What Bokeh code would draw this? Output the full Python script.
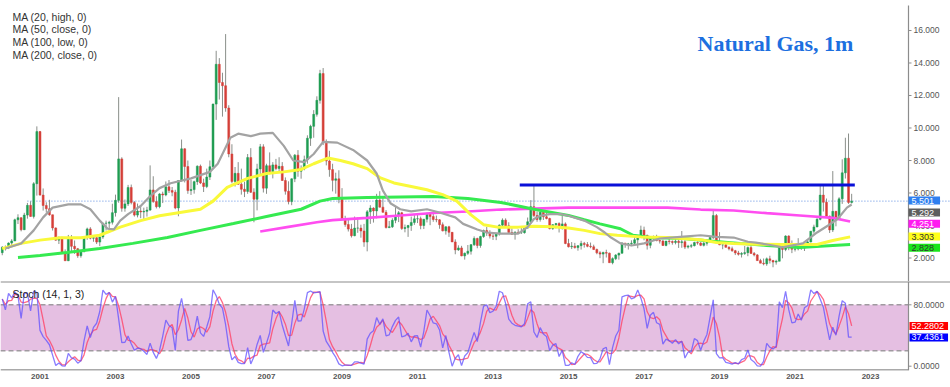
import numpy as np
import pandas as pd
from bokeh.plotting import figure
from bokeh.layouts import column
from bokeh.models import (Range1d, FixedTicker, Label, Span, BoxAnnotation, ColumnDataSource)
from bokeh.core.properties import value
from bokeh.embed import file_html
from bokeh.resources import INLINE

# ---------------- data (monthly, Jan 2000 .. Jul 2022) ----------------
first_open = 2.33
close_ = [
    2.66, 2.61, 2.92, 3.05, 4.35, 4.48, 3.74, 4.64, 5.24, 4.56, 6.57, 9.78,      # 2000
    5.87, 5.23, 5.03, 4.66, 3.85, 3.10, 3.17, 2.30, 1.83, 3.20, 2.72, 2.57,      # 2001
    2.14, 2.39, 3.28, 3.79, 3.22, 3.25, 2.98, 3.30, 4.14, 4.14, 4.20, 4.79,      # 2002
    5.55, 8.10, 5.06, 5.33, 6.34, 5.41, 4.64, 4.89, 4.83, 4.87, 4.95, 6.19,      # 2003
    5.47, 5.16, 5.94, 5.88, 6.38, 6.15, 6.05, 5.08, 6.77, 8.72, 7.63, 6.15,      # 2004
    6.21, 6.70, 7.65, 6.62, 6.40, 6.98, 7.62, 11.47, 13.92, 12.80, 12.60, 11.23, # 2005
    8.40, 6.71, 7.21, 6.54, 6.23, 6.10, 8.18, 6.05, 5.62, 7.48, 8.84, 6.30,      # 2006
    7.68, 7.31, 7.73, 7.51, 7.64, 6.77, 6.11, 5.47, 6.87, 8.33, 7.34, 7.48,      # 2007
    8.04, 9.37, 10.10, 10.84, 11.70, 13.35, 9.12, 7.97, 7.44, 6.78, 6.87, 5.62,  # 2008
    4.42, 4.06, 3.78, 3.37, 3.84, 3.84, 3.66, 2.98, 4.84, 5.07, 4.90, 5.57,      # 2009
    5.13, 4.81, 3.87, 3.92, 4.32, 4.62, 4.78, 3.82, 3.87, 4.00, 4.19, 4.41,      # 2010
    4.42, 4.00, 4.39, 4.69, 4.55, 4.37, 4.35, 4.05, 3.67, 3.92, 3.58, 2.99,      # 2011
    2.50, 2.62, 2.13, 2.29, 2.42, 2.82, 3.20, 2.77, 3.32, 3.69, 3.56, 3.35,      # 2012
    3.34, 3.47, 4.02, 4.33, 3.98, 3.57, 3.46, 3.58, 3.56, 3.56, 3.84, 4.23,      # 2013
    5.16, 4.61, 4.37, 4.82, 4.54, 4.43, 3.81, 4.05, 4.12, 3.86, 4.10, 2.89,      # 2014
    2.69, 2.73, 2.64, 2.76, 2.90, 2.83, 2.72, 2.69, 2.52, 2.32, 2.24, 2.34,      # 2015
    2.30, 1.71, 1.96, 2.18, 2.29, 2.92, 2.88, 2.88, 2.91, 3.12, 3.35, 3.72,      # 2016
    3.39, 2.78, 3.19, 3.28, 3.07, 3.04, 2.77, 3.04, 3.01, 2.96, 3.03, 2.95,      # 2017
    3.00, 2.67, 2.73, 2.76, 2.95, 2.92, 2.78, 2.91, 3.01, 3.26, 4.61, 2.94,      # 2018
    2.81, 2.81, 2.66, 2.57, 2.45, 2.31, 2.23, 2.28, 2.33, 2.64, 2.28, 2.19,      # 2019
    1.84, 1.68, 1.64, 1.95, 1.85, 1.75, 1.80, 2.63, 2.53, 3.35, 2.88, 2.54,      # 2020
    2.56, 2.77, 2.61, 2.93, 2.99, 3.65, 3.91, 4.38, 5.87, 5.43, 4.57, 3.73,      # 2021
    4.87, 4.40, 5.64, 7.24, 8.14, 5.42, 5.50,                                    # 2022
]
high_ = [
    2.73, 2.77, 2.96, 3.16, 4.42, 4.69, 4.50, 4.78, 5.39, 5.49, 6.67, 10.10,
    9.82, 6.28, 5.43, 5.58, 4.66, 3.88, 3.33, 3.31, 2.53, 3.42, 3.41, 3.08,
    2.62, 2.47, 3.34, 3.87, 3.90, 3.40, 3.30, 3.32, 4.16, 4.30, 4.29, 5.34,
    5.90, 11.90, 8.20, 5.60, 6.50, 6.52, 5.50, 5.35, 5.25, 5.10, 5.15, 7.70,
    7.03, 5.80, 5.99, 6.08, 6.71, 6.80, 6.37, 6.20, 6.80, 9.29, 8.75, 8.00,
    6.81, 6.76, 7.70, 7.75, 6.88, 7.50, 8.00, 11.50, 14.75, 14.30, 13.40, 15.78,
    11.40, 9.00, 7.60, 7.90, 7.50, 6.70, 8.40, 8.76, 6.29, 7.80, 9.02, 9.00,
    7.80, 8.50, 7.90, 8.10, 8.20, 7.90, 6.96, 6.72, 6.90, 8.40, 8.64, 7.70,
    8.30, 9.55, 10.20, 11.10, 11.95, 13.58, 13.69, 9.30, 8.60, 7.80, 7.25, 7.40,
    6.30, 4.60, 4.40, 4.10, 4.55, 4.50, 4.05, 4.10, 4.95, 5.25, 5.12, 5.95,
    6.11, 5.70, 4.95, 4.28, 4.45, 5.20, 4.89, 4.84, 4.06, 4.04, 4.55, 4.64,
    4.70, 4.55, 4.40, 4.79, 4.81, 4.85, 4.61, 4.39, 4.19, 3.95, 3.98, 3.60,
    3.15, 2.78, 2.75, 2.34, 2.80, 2.86, 3.33, 3.25, 3.37, 3.75, 3.91, 3.71,
    3.59, 3.55, 4.07, 4.44, 4.44, 4.20, 3.83, 3.65, 3.77, 3.86, 3.88, 4.49,
    5.56, 6.49, 4.86, 4.83, 4.82, 4.80, 4.48, 4.08, 4.16, 4.20, 4.59, 4.19,
    3.18, 2.98, 2.93, 2.78, 3.06, 2.99, 2.98, 2.95, 2.82, 2.58, 2.42, 2.39,
    2.51, 2.33, 2.04, 2.24, 2.33, 2.97, 2.92, 2.93, 3.09, 3.30, 3.36, 3.99,
    3.93, 3.44, 3.22, 3.38, 3.43, 3.13, 3.12, 3.05, 3.17, 3.08, 3.22, 3.15,
    3.66, 3.10, 2.81, 2.87, 3.00, 3.02, 2.98, 2.99, 3.08, 3.34, 4.93, 4.71,
    3.59, 2.83, 2.97, 2.72, 2.70, 2.50, 2.44, 2.36, 2.74, 2.71, 2.86, 2.37,
    2.24, 1.95, 1.97, 2.03, 2.14, 1.88, 1.89, 2.68, 2.87, 3.40, 3.40, 3.08,
    2.90, 3.22, 2.93, 2.95, 3.13, 3.66, 4.05, 4.45, 6.47, 6.47, 5.66, 4.61,
    7.35, 4.90, 5.74, 8.07, 9.40, 9.66, 5.95,
]
low_ = [
    2.17, 2.46, 2.55, 2.79, 3.04, 4.09, 3.64, 3.72, 4.42, 4.54, 4.43, 5.84,
    5.85, 4.92, 4.80, 4.60, 3.69, 3.07, 2.86, 2.26, 1.83, 1.81, 2.35, 2.25,
    2.01, 2.02, 2.35, 3.12, 3.15, 3.00, 2.86, 2.73, 3.18, 3.69, 3.73, 4.06,
    4.55, 5.40, 4.85, 4.85, 5.20, 5.30, 4.55, 4.50, 4.45, 4.40, 4.55, 4.90,
    5.40, 5.05, 5.06, 5.38, 5.80, 6.00, 5.80, 5.00, 4.57, 6.70, 6.65, 5.95,
    5.88, 5.96, 6.50, 6.55, 6.06, 6.30, 6.80, 7.55, 10.50, 11.75, 10.70, 11.00,
    8.20, 6.60, 6.40, 6.50, 5.90, 5.75, 5.95, 6.00, 4.20, 4.93, 7.05, 6.03,
    5.95, 7.15, 6.90, 7.40, 7.35, 6.75, 5.90, 5.30, 5.25, 6.67, 7.00, 6.88,
    7.40, 7.80, 8.90, 9.40, 10.70, 11.50, 8.95, 7.70, 7.00, 6.10, 5.96, 5.37,
    4.37, 3.92, 3.63, 3.26, 3.34, 3.55, 3.25, 2.69, 2.41, 4.10, 4.18, 4.44,
    5.11, 4.80, 3.82, 3.84, 3.85, 4.14, 4.21, 3.73, 3.58, 3.30, 3.67, 4.04,
    4.15, 3.77, 3.78, 4.19, 4.02, 4.23, 4.20, 3.80, 3.64, 3.44, 3.30, 2.99,
    2.23, 2.44, 2.11, 1.90, 2.19, 2.21, 2.74, 2.60, 2.63, 3.24, 3.36, 3.20,
    3.11, 3.10, 3.38, 3.89, 3.96, 3.55, 3.42, 3.13, 3.49, 3.48, 3.50, 3.81,
    4.13, 4.52, 4.23, 4.24, 4.34, 4.38, 3.76, 3.73, 3.82, 3.57, 3.75, 2.85,
    2.65, 2.55, 2.58, 2.45, 2.52, 2.64, 2.66, 2.60, 2.51, 2.23, 1.99, 1.68,
    2.03, 1.71, 1.61, 1.87, 1.90, 2.28, 2.63, 2.52, 2.73, 2.81, 2.60, 3.26,
    3.09, 2.52, 2.60, 3.05, 3.03, 2.89, 2.75, 2.72, 2.84, 2.82, 2.84, 2.62,
    2.63, 2.55, 2.58, 2.62, 2.71, 2.82, 2.73, 2.71, 2.76, 2.98, 3.17, 2.92,
    2.79, 2.54, 2.64, 2.47, 2.38, 2.18, 2.15, 2.03, 2.19, 2.11, 2.27, 2.10,
    1.83, 1.68, 1.55, 1.52, 1.66, 1.43, 1.59, 1.80, 1.98, 2.42, 2.48, 2.30,
    2.40, 2.47, 2.50, 2.43, 2.84, 2.96, 3.50, 3.90, 4.32, 4.86, 4.50, 3.54,
    3.60, 3.95, 4.35, 5.33, 6.89, 5.33, 5.35,
]

# moving averages (month index since Jan 2000, price)
ma20_high_m = [1, 6, 10, 13, 16, 21, 25, 28, 31, 33.5, 35.5, 37.5, 40, 44, 47, 50, 53.5, 60, 66, 68.5,
               70.5, 72.5, 75, 79, 82, 86, 89.5, 92.5, 96, 99, 102, 106.5, 111.5, 116, 119, 121, 123.5,
               126.5, 130, 135, 139, 144, 146.5, 151, 154, 158.5, 164, 167, 169, 171, 174, 177.5, 180,
               185, 189, 191.5, 193.5, 196.5, 200, 204, 209, 215.5, 222, 227, 232.5, 237, 239.5, 245,
               248, 254.5, 259, 262.5, 265.5, 268.5, 270]
ma20_high_v = [2.58, 2.89, 3.7, 4.5, 5.1, 5.3, 5.3, 5.0, 4.3, 3.8, 3.76, 4.3, 4.7, 5.2, 5.8, 6.3, 6.6, 6.9,
               7.3, 7.8, 8.6, 9.4, 9.65, 9.5, 9.65, 9.7, 8.9, 8.0, 7.9, 8.4, 9.15, 9.1, 8.65, 8.0, 7.2,
               6.15, 5.35, 5.0, 4.87, 5.0, 4.8, 4.5, 4.1, 3.75, 3.57, 3.5, 3.5, 3.9, 4.4, 4.6, 4.7, 4.7,
               4.6, 4.3, 3.9, 3.57, 3.26, 2.9, 2.77, 2.9, 3.2, 3.3, 3.4, 3.3, 3.26, 3.0, 2.95, 2.77,
               2.65, 2.9, 3.57, 4.0, 4.4, 5.1, 5.29]
ma50_close_m = [0, 6, 12, 18.5, 25, 31, 37.5, 44, 50, 56.5, 63, 67, 71.5, 78, 84, 89.5, 95, 99, 103.5,
                107.5, 111.5, 116, 120, 124.5, 130, 135, 140, 144.5, 149, 153, 157.5, 164, 169, 175,
                180, 185, 190, 195.5, 203, 211.5, 222, 227, 232.5, 239.5, 248, 259, 264, 269.5]
ma50_close_v = [2.58, 2.9, 3.1, 3.25, 3.25, 3.4, 3.9, 4.3, 4.6, 4.8, 5.0, 5.5, 6.35, 6.9, 7.2, 7.3, 7.45,
                7.8, 8.15, 8.0, 7.8, 7.5, 6.95, 6.62, 6.4, 6.2, 5.9, 5.5, 4.65, 4.05, 3.9, 3.9, 3.95,
                3.92, 3.85, 3.7, 3.5, 3.4, 3.3, 3.26, 3.13, 2.95, 2.9, 2.85, 2.83, 2.83, 3.08, 3.30]
ma100_low_m = [5, 12, 20.5, 31, 41.5, 52.5, 63, 73.5, 84, 95, 101, 105, 116, 126.5, 137, 148, 158.5, 169,
               180, 185, 190, 196.5, 200.5, 206, 216.5, 225, 234.5, 243, 253.5, 264, 269.5]
ma100_low_v = [2.03, 2.15, 2.34, 2.58, 2.9, 3.26, 3.7, 4.12, 4.55, 5.0, 5.5, 5.66, 5.72, 5.76, 5.78, 5.66,
               5.42, 5.0, 4.62, 4.35, 4.1, 3.8, 3.4, 3.26, 3.2, 3.05, 2.9, 2.77, 2.65, 2.77, 2.83]
ma200_close_m = [82, 90.5, 100, 105, 116, 126.5, 137, 148, 158.5, 169, 180, 195.5, 211.5, 222, 232.5,
                 243, 253.5, 264, 269.5]
ma200_close_v = [3.63, 3.9, 4.2, 4.33, 4.47, 4.62, 4.77, 4.86, 4.98, 5.04, 5.1, 5.1, 5.1, 4.98, 4.92,
                 4.76, 4.62, 4.47, 4.25]

resistance_level = 6.5
resistance_from, resistance_to = 164.5, 271
last_price = 5.501
last_price_from = 8

ma_names = ["MA (20, high, 0)", "MA (50, close, 0)", "MA (100, low, 0)", "MA (200, close, 0)"]
price_tags = ["5.501", "5.292", "4.251", "3.303", "2.828"]
stoch_tags = [52.2802, 37.4361]
price_ticks = [2, 4, 6, 8, 10, 12, 14, 16]
stoch_ticks = [0, 80]
year_labels = ["2001", "2003", "2005", "2007", "2009", "2011", "2013", "2015",
               "2017", "2019", "2021", "2023"]

# ---------------- derived ----------------
n = len(close_)
m = np.arange(n)
open_ = [first_open] + close_[:-1]
o = np.array(open_); c = np.array(close_); h = np.array(high_); l = np.array(low_)
up = c >= o
src = ColumnDataSource(dict(
    m=m, o=o, h=h, l=l, c=c,
    top=np.maximum(o, c), bottom=np.minimum(o, c),
    color=np.where(up, "#1f9d52", "#d63f38"),
))

hh = pd.Series(h).rolling(14, min_periods=1).max()
ll = pd.Series(l).rolling(14, min_periods=1).min()
k = 100 * (pd.Series(c) - ll) / (hh - ll)
d = k.rolling(3, min_periods=1).mean()

# ---------------- layout constants ----------------
W = 950
MAIN_H = 281
STOCH_H = 89
PX_PER_M = 3.146
X0 = -1.75 / PX_PER_M
X1 = X0 + W / PX_PER_M
AXIS_X = X0 + 908 / PX_PER_M          # position of the right price axis
TICK_LEN = 3 / PX_PER_M
LABEL_X = X0 + 913 / PX_PER_M
MAIN_Y = (0.554, 17.846)
STOCH_Y = (-5.6, 110.36)
AXIS_GREY = "#8c8c8c"
LABEL_GREY = "#555555"

main = figure(frame_width=W, frame_height=MAIN_H, x_range=Range1d(X0, X1),
              y_range=Range1d(*MAIN_Y), output_backend="svg", toolbar_location=None,
              x_axis_location=None, y_axis_location=None,
              min_border_left=0, min_border_right=0, min_border_top=0, min_border_bottom=0)
main.grid.visible = False
main.outline_line_color = None

# price line (dotted)
main.segment(x0=[last_price_from], y0=[last_price], x1=[X1], y1=[last_price],
             line_color="#5b8be0", line_width=1, line_dash="1 2")

# candles
main.segment(x0="m", y0="l", x1="m", y1="h", source=src, line_color="#8a8f8a", line_width=1)
main.vbar(x="m", width=0.62, top="top", bottom="bottom", source=src,
          fill_color="color", line_color="color", line_width=0.5)

# moving averages
main.line(ma200_close_m, ma200_close_v, line_color="#ff4df0", line_width=2.6)
main.line(ma100_low_m, ma100_low_v, line_color="#35ea50", line_width=3)
main.line(ma50_close_m, ma50_close_v, line_color="#f9f93a", line_width=3)
main.line(ma20_high_m, ma20_high_v, line_color="#a3a3a3", line_width=2.2)

# resistance line
main.segment(x0=[resistance_from], y0=[resistance_level], x1=[resistance_to], y1=[resistance_level],
             line_color="#0a10d8", line_width=3)

# right price axis (inside the frame so that value tags can sit over it)
main.segment(x0=[AXIS_X], y0=[MAIN_Y[0]], x1=[AXIS_X], y1=[MAIN_Y[1] - 0.3],
             line_color=AXIS_GREY, line_width=1.2)
main.segment(x0=[AXIS_X] * len(price_ticks), y0=price_ticks,
             x1=[AXIS_X + TICK_LEN] * len(price_ticks), y1=price_ticks,
             line_color=AXIS_GREY, line_width=1)
main.text(x=[LABEL_X] * len(price_ticks), y=price_ticks,
          text=[f"{t:.3f}" for t in price_ticks], text_font=value("Liberation Sans"),
          text_font_size=value("8.5px"), text_color=LABEL_GREY,
          text_align="left", text_baseline="middle")

# legend texts
for i, t in enumerate(ma_names):
    main.add_layout(Label(x=12, y=MAIN_H - 16 - i * 12.7, x_units="screen", y_units="screen", text=t,
                          text_font="Liberation Sans", text_font_size="10.5px",
                          text_color="#333333", text_baseline="middle"))

main.add_layout(Label(x=775, y=MAIN_H - 43, x_units="screen", y_units="screen",
                      text="Natural Gas, 1m", text_font="Liberation Serif",
                      text_font_style="bold", text_font_size="22px", text_color="#1c6fe0",
                      text_align="center", text_baseline="alphabetic"))

tag_styles = [("#2f7ff0", "white"), ("#5e5e5e", "white"), ("#ff1af0", "white"),
              ("#ffff1a", "#333333"), ("#19e619", "#333333")]
tag_screen_y = [200, 212, 223.3, 236, 247.3]
for t, (bg, fg), yy in zip(price_tags, tag_styles, tag_screen_y):
    main.add_layout(Label(x=908, y=MAIN_H - yy, x_units="screen", y_units="screen", text=t,
                          text_font="Liberation Sans", text_font_size="9px", text_color=fg,
                          background_fill_color=bg, text_baseline="middle", text_align="left",
                          padding=dict(left=3, right=6, top=1, bottom=1)))

# ---------------- stochastic pane ----------------
stoch = figure(frame_width=W, frame_height=STOCH_H, x_range=main.x_range,
               y_range=Range1d(*STOCH_Y), output_backend="svg", toolbar_location=None,
               y_axis_location=None,
               min_border_left=0, min_border_right=0, min_border_top=0, min_border_bottom=0)
stoch.grid.visible = False
stoch.outline_line_color = None
stoch.add_layout(BoxAnnotation(left=X0, right=AXIS_X, bottom=20, top=80, fill_color="#e5bfe2",
                               fill_alpha=1, line_color=None, level="underlay"))
for lv in (20, 80):
    stoch.segment(x0=[X0], y0=[lv], x1=[AXIS_X], y1=[lv], line_color="#a09aa0",
                  line_width=1.5, line_dash="5 3")
# pane separator and bottom axis line
stoch.add_layout(Span(location=STOCH_Y[1] - 0.4, dimension="width", line_color=AXIS_GREY,
                      line_width=1.5))
stoch.segment(x0=[X0], y0=[STOCH_Y[0] + 0.5], x1=[AXIS_X], y1=[STOCH_Y[0] + 0.5],
              line_color=AXIS_GREY, line_width=1.5)
stoch.segment(x0=[AXIS_X], y0=[STOCH_Y[0]], x1=[AXIS_X], y1=[STOCH_Y[1]],
              line_color=AXIS_GREY, line_width=1.2)
stoch.segment(x0=[AXIS_X] * len(stoch_ticks), y0=stoch_ticks,
              x1=[AXIS_X + TICK_LEN] * len(stoch_ticks), y1=stoch_ticks,
              line_color=AXIS_GREY, line_width=1)
stoch.text(x=[LABEL_X] * len(stoch_ticks), y=stoch_ticks,
           text=[f"{t:.4f}" for t in stoch_ticks], text_font=value("Liberation Sans"),
           text_font_size=value("8.5px"), text_color=LABEL_GREY,
           text_align="left", text_baseline="middle")

stoch.line(m, d.values, line_color="#ff4468", line_width=1.3, line_alpha=0.8)
stoch.line(m, k.values, line_color="#6050ff", line_width=1.3, line_alpha=0.75)

sx = stoch.xaxis[0]
year_ticks = [(int(y) - 2000) * 12 for y in year_labels]
sx.ticker = FixedTicker(ticks=year_ticks)
sx.major_label_overrides = {t: lab for t, lab in zip(year_ticks, year_labels)}
sx.major_label_text_font_size = "8px"
sx.major_label_text_font_style = "bold"
sx.major_label_text_color = LABEL_GREY
sx.major_label_text_font = "Liberation Sans"
sx.axis_line_color = None
sx.major_tick_line_color = None
sx.major_tick_out = 0
sx.major_tick_in = 0
sx.minor_tick_line_color = None
sx.major_label_standoff = 3

stoch.add_layout(Label(x=12, y=STOCH_H - 12, x_units="screen", y_units="screen",
                       text="Stoch (14, 1, 3)", text_font="Liberation Sans",
                       text_font_size="10.5px", text_color="#222222", text_baseline="middle"))
tag_colors = ["#ff0000", "#0000ff"]
for v, bg in zip(stoch_tags, tag_colors):
    stoch.add_layout(Label(x=909, y=v, x_units="screen", y_units="data", text=f"{v:.4f}",
                           text_font="Liberation Sans", text_font_size="9px", text_color="white",
                           background_fill_color=bg, text_baseline="middle", text_align="left",
                           padding=dict(left=2, right=4, top=1, bottom=1)))

layout = column(main, stoch, spacing=0)
open("out.html", "w").write(file_html(layout, INLINE, title="Natural Gas, 1m"))
